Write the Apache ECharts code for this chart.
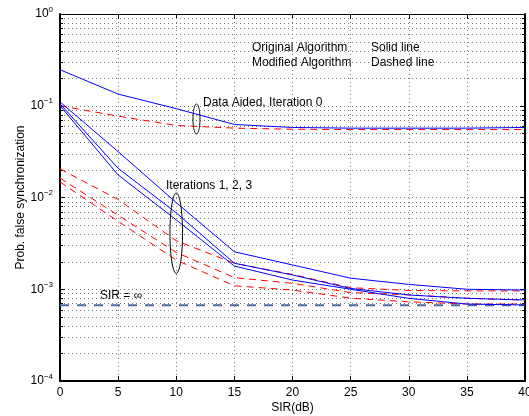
<!DOCTYPE html>
<html><head><meta charset="utf-8">
<script src="https://cdn.jsdelivr.net/npm/echarts@6/dist/echarts.min.js"></script>
<style>html,body{margin:0;padding:0;background:#fff}#c{width:529px;height:416px}</style>
</head><body><div id="c"></div>
<script>
const sir = [0, 5, 10, 15, 20, 25, 30, 35, 40];
const xTicks = [0, 5, 10, 15, 20, 25, 30, 35, 40];
const yTickExps = [-4, -3, -2, -1, 0];
// Data aided, iteration 0
const daOrig = [0.247, 0.134, 0.093, 0.0625, 0.058, 0.057, 0.057, 0.057, 0.058];
const daMod  = [0.100, 0.077, 0.061, 0.057, 0.0555, 0.055, 0.055, 0.055, 0.055];
// Iterations 1,2,3 original (solid)
const it1Orig = [0.110, 0.0316, 0.0088, 0.00256, 0.00184, 0.00132, 0.00113, 0.00100, 0.00098];
const it2Orig = [0.105, 0.0208, 0.0068, 0.00192, 0.00143, 0.00102, 0.000866, 0.000796, 0.000764];
const it3Orig = [0.100, 0.0176, 0.0057, 0.00179, 0.00126, 0.00100, 0.000796, 0.00069, 0.000673];
// Iterations 1,2,3 modified (dashed)
const it1Mod = [0.0205, 0.0095, 0.00338, 0.00192, 0.00145, 0.00104, 0.00097, 0.00096, 0.00096];
const it2Mod = [0.0163, 0.0064, 0.00252, 0.00134, 0.00116, 0.00092, 0.00087, 0.00080, 0.00076];
const it3Mod = [0.0148, 0.0055, 0.00208, 0.00109, 0.00098, 0.00080, 0.00073, 0.00069, 0.00069];
// SIR = infinity
const sirInf = [0.00067, 0.00067, 0.00067, 0.00067, 0.00067, 0.00067, 0.00067, 0.00067, 0.00067];
// Annotation ellipses: [x, yTop, yBottom]
const ellipses = [[11.74, 0.1045, 0.0492], [10.0, 0.0112, 0.00149]];

const minorVals = [];
for (let e = yTickExps[0]; e < yTickExps[yTickExps.length - 1]; e++) {
  for (let k = 2; k <= 9; k++) minorVals.push(k * Math.pow(10, e));
}
const pair = arr => sir.map((x, i) => [x, arr[i]]);
const FONT = '"Liberation Sans", Arial, Helvetica, sans-serif';
const chart = echarts.init(document.getElementById('c'));

function solid(name, arr) {
  return {name, type: 'line', data: pair(arr), symbol: 'none', z: 5,
    lineStyle: {color: '#0000ff', width: 1}};
}
function dashed(name, arr) {
  return {name, type: 'line', data: pair(arr), symbol: 'none', z: 4,
    lineStyle: {color: '#ff0000', width: 1, type: [7, 5]}};
}
const gridLine = {show: true, lineStyle: {color: '#777', width: 1, type: [1, 3]}};
const ewidths = [3.5, 6.3];

chart.setOption({
  animation: false,
  textStyle: {fontFamily: FONT},
  grid: {left: 60, right: 4, top: 14, bottom: 35, show: false, containLabel: false, outerBoundsMode: 'none'},
  xAxis: [{
    type: 'value', min: 0, max: 40, interval: 5, position: 'bottom',
    axisLine: {show: true, onZero: false, lineStyle: {color: '#000', width: 2}},
    axisTick: {show: true, inside: true, length: 5, lineStyle: {color: '#000'}},
    axisLabel: {color: '#000', fontSize: 12, margin: 6, fontFamily: FONT},
    splitLine: gridLine,
    name: 'SIR(dB)', nameLocation: 'middle', nameGap: 21, nameMoveOverlap: false,
    nameTextStyle: {color: '#000', fontSize: 12, fontFamily: FONT}
  }, {
    type: 'value', min: 0, max: 40, interval: 5, position: 'top',
    axisLine: {show: true, onZero: false, lineStyle: {color: '#000', width: 1}},
    axisTick: {show: true, inside: true, length: 5, lineStyle: {color: '#000'}},
    axisLabel: {show: false}, splitLine: {show: false}
  }],
  yAxis: [{
    type: 'log', logBase: 10, min: 1e-4, max: 1, position: 'left',
    axisLine: {show: true, onZero: false, lineStyle: {color: '#000', width: 2}},
    axisTick: {show: true, inside: true, length: 5, lineStyle: {color: '#000'}},
    axisLabel: {
      margin: 7, color: '#000',
      formatter: v => {
        const e = Math.round(Math.log10(v));
        return '{b|10}{s|' + (e < 0 ? '\u2212' + (-e) : e) + '}';
      },
      rich: {
        b: {fontSize: 12, fontFamily: FONT, color: '#000'},
        s: {fontSize: 8, fontFamily: FONT, color: '#000', padding: [0, 0, 9, 0]}
      }
    },
    splitLine: gridLine,
    name: 'Prob. false synchronization', nameLocation: 'middle', nameGap: 33, nameRotate: 90,
    nameMoveOverlap: false,
    nameTextStyle: {color: '#000', fontSize: 12, fontFamily: FONT}
  }, {
    type: 'log', logBase: 10, min: 1e-4, max: 1, position: 'right',
    axisLine: {show: true, onZero: false, lineStyle: {color: '#000', width: 2}},
    axisTick: {show: true, inside: true, length: 5, lineStyle: {color: '#000'}},
    axisLabel: {show: false}, splitLine: {show: false}
  }],
  graphic: [
    {type: 'text', left: 252, top: 42, style: {text: 'Original Algorithm', font: '12px ' + FONT, fill: '#000'}},
    {type: 'text', left: 371, top: 42, style: {text: 'Solid line', font: '12px ' + FONT, fill: '#000'}},
    {type: 'text', left: 252, top: 57, style: {text: 'Modified Algorithm', font: '12px ' + FONT, fill: '#000'}},
    {type: 'text', left: 371, top: 57, style: {text: 'Dashed line', font: '12px ' + FONT, fill: '#000'}},
    {type: 'text', left: 203, top: 97, style: {text: 'Data Aided, Iteration 0', font: '12px ' + FONT, fill: '#000'}},
    {type: 'text', left: 166, top: 180, style: {text: 'Iterations 1, 2, 3', font: '12px ' + FONT, fill: '#000'}},
    {type: 'text', left: 100, top: 290, style: {text: 'SIR = \u221e', font: '12px ' + FONT, fill: '#000'}}
  ],
  series: [
    {
      type: 'custom', name: 'minorGrid', silent: true, z: 1,
      data: minorVals.map(v => [0, v]),
      encode: {x: 0, y: 1},
      renderItem: (params, api) => {
        const v = api.value(1);
        const a = api.coord([xTicks[0], v]);
        const b = api.coord([xTicks[xTicks.length - 1], v]);
        const y = Math.round(a[1]) + 0.5;
        return {type: 'group', children: [
          {type: 'line', shape: {x1: a[0], y1: y, x2: b[0], y2: y},
            style: {stroke: '#777', lineWidth: 1, lineDash: [1, 3]}},
          {type: 'line', shape: {x1: a[0], y1: y, x2: a[0] + 3, y2: y}, style: {stroke: '#000', lineWidth: 1}},
          {type: 'line', shape: {x1: b[0] - 3, y1: y, x2: b[0], y2: y}, style: {stroke: '#000', lineWidth: 1}}
        ]};
      }
    },
    {
      name: 'SIR = inf', type: 'line', data: pair(sirInf), symbol: 'none', z: 3,
      lineStyle: {color: '#4d6aa3', width: 2, type: [9, 8]}
    },
    solid('DA orig', daOrig), dashed('DA mod', daMod),
    solid('It1 orig', it1Orig), solid('It2 orig', it2Orig), solid('It3 orig', it3Orig),
    dashed('It1 mod', it1Mod), dashed('It2 mod', it2Mod), dashed('It3 mod', it3Mod),
    {
      type: 'custom', name: 'ellipses', silent: true, z: 6,
      data: ellipses,
      encode: {x: 0, y: [1, 2]},
      renderItem: (params, api) => {
        const t = api.coord([api.value(0), api.value(1)]);
        const bt = api.coord([api.value(0), api.value(2)]);
        const cx = t[0], cy = (t[1] + bt[1]) / 2, ry = (bt[1] - t[1]) / 2;
        const rx = ewidths[params.dataIndex];
        const pts = [];
        for (let i = 0; i <= 72; i++) {
          const a = i / 72 * Math.PI * 2;
          pts.push([cx + rx * Math.cos(a), cy + ry * Math.sin(a)]);
        }
        return {type: 'polyline', shape: {points: pts}, style: {stroke: '#000', lineWidth: 1, fill: null}};
      }
    }
  ]
});
</script></body></html>
